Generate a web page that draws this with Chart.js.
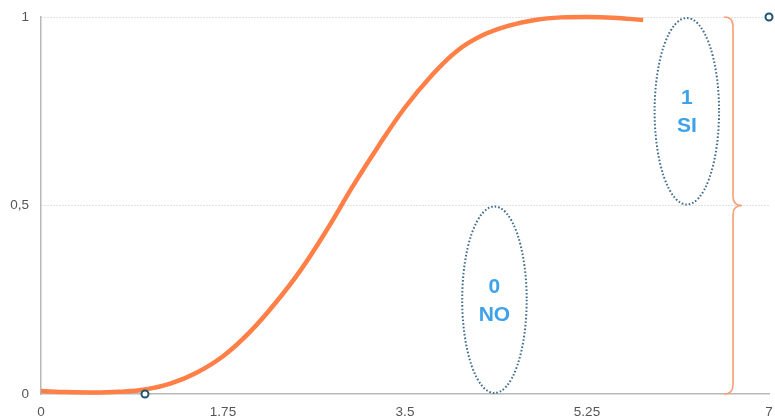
<!DOCTYPE html>
<html>
<head>
<meta charset="utf-8">
<script src="https://cdn.jsdelivr.net/npm/chart.js@4/dist/chart.umd.min.js"></script>
<style>
  html, body { margin: 0; padding: 0; background: #ffffff; }
  #wrap { width: 775px; height: 416px; position: relative; overflow: hidden; }
</style>
</head>
<body>
<div id="wrap"><canvas id="c"></canvas></div>
<script>
// ---- data ----
const curveX = [0, 0.25, 0.5, 0.75, 1, 1.25, 1.5, 1.75, 2, 2.25, 2.5, 2.75, 3, 3.25, 3.5, 3.75, 4, 4.25, 4.5, 4.75, 5, 5.25, 5.5, 5.79];
const curveY = [0.008, 0.005, 0.004, 0.006, 0.012, 0.028, 0.057, 0.10, 0.162, 0.24, 0.33, 0.436, 0.552, 0.66, 0.76, 0.843, 0.91, 0.952, 0.977, 0.992, 0.999, 1.0, 0.998, 0.992];
const obsX = [1, 7];
const obsY = [0, 1];
const xTickValues = [0, 1.75, 3.5, 5.25, 7];
const xTickLabels = ['0', '1.75', '3.5', '5.25', '7'];
const yTickValues = [0, 0.5, 1];
const yTickLabels = ['0', '0,5', '1'];
const classLabels = [['1', 'SI'], ['0', 'NO']];
const classRanges = [[0.5, 1], [0, 0.5]];
const classCenterX = [6.21, 4.36];

const annot = {
  ellipseHalfWidth: 0.31,
  bracketX: 6.654
};

const annotationPlugin = {
  id: 'annot',
  afterDatasetsDraw(chart) {
    const { ctx, scales: { x, y } } = chart;
    ctx.save();
    for (let i = 0; i < classLabels.length; i++) {
      const cx = x.getPixelForValue(classCenterX[i]);
      const top = y.getPixelForValue(classRanges[i][1]);
      const bot = y.getPixelForValue(classRanges[i][0]);
      const rx = x.getPixelForValue(classCenterX[i] + annot.ellipseHalfWidth) - cx;
      const cy = (top + bot) / 2;
      const ry = (bot - top) / 2 - 1;
      ctx.beginPath();
      ctx.setLineDash([1.6, 2]);
      ctx.lineWidth = 2;
      ctx.strokeStyle = '#3f6c8c';
      ctx.ellipse(cx, cy, rx, ry, 0, 0, Math.PI * 2);
      ctx.stroke();
      ctx.setLineDash([]);
      ctx.fillStyle = '#3da2ea';
      ctx.font = 'bold 21px "Liberation Sans", Arial, sans-serif';
      ctx.textAlign = 'center';
      ctx.textBaseline = 'middle';
      ctx.fillText(classLabels[i][0], cx, cy - 13);
      ctx.fillText(classLabels[i][1], cx, cy + 15);
    }
    const bx = x.getPixelForValue(annot.bracketX);
    const t = y.getPixelForValue(1);
    const m = y.getPixelForValue(0.5);
    const b = y.getPixelForValue(0);
    const r = 9;
    ctx.beginPath();
    ctx.lineWidth = 1.6;
    ctx.strokeStyle = '#f79f74';
    ctx.moveTo(bx - r, t);
    ctx.quadraticCurveTo(bx, t, bx, t + r);
    ctx.lineTo(bx, m - r);
    ctx.quadraticCurveTo(bx, m, bx + r, m);
    ctx.quadraticCurveTo(bx, m, bx, m + r);
    ctx.lineTo(bx, b - r);
    ctx.quadraticCurveTo(bx, b, bx - r, b);
    ctx.stroke();
    ctx.restore();
  }
};

new Chart(document.getElementById('c'), {
  data: {
    datasets: [
      {
        type: 'line',
        data: curveX.map((v, i) => ({ x: v, y: curveY[i] })),
        borderColor: '#ff7f47',
        borderWidth: 4.5,
        pointRadius: 0,
        tension: 0.4,
        fill: false,
        clip: false,
        borderCapStyle: 'butt',
        order: 2
      },
      {
        type: 'scatter',
        data: obsX.map((v, i) => ({ x: v, y: obsY[i] })),
        pointRadius: 3.5,
        pointBorderWidth: 2,
        pointBorderColor: '#1f5570',
        pointBackgroundColor: '#ffffff',
        clip: false,
        order: 1
      }
    ]
  },
  options: {
    responsive: true,
    maintainAspectRatio: false,
    animation: false,
    devicePixelRatio: 1,
    layout: { padding: { top: 17, right: 4, left: 0, bottom: 0 } },
    plugins: { legend: { display: false }, tooltip: { enabled: false } },
    scales: {
      x: {
        type: 'linear',
        min: 0, max: 7,
        afterBuildTicks(s) { s.ticks = xTickValues.map(v => ({ value: v })); },
        afterFit(s) { s.height = 22; s.paddingRight = 0; s.paddingLeft = 0; },
        ticks: {
          callback: (v) => { const i = xTickValues.indexOf(v); return i >= 0 ? xTickLabels[i] : ''; },
          color: '#555555',
          font: { family: '"Liberation Sans", Arial, sans-serif', size: 13.5 },
          padding: 10,
          maxRotation: 0,
          autoSkip: false
        },
        grid: { display: false, drawTicks: false },
        border: { display: true, color: '#b8b8b8', width: 1.5 }
      },
      y: {
        type: 'linear',
        min: 0, max: 1,
        afterBuildTicks(s) { s.ticks = yTickValues.map(v => ({ value: v })); },
        afterFit(s) { s.width = 41; s.paddingTop = 0; s.paddingBottom = 0; },
        ticks: {
          callback: (v) => { const i = yTickValues.indexOf(v); return i >= 0 ? yTickLabels[i] : ''; },
          color: '#555555',
          font: { family: '"Liberation Sans", Arial, sans-serif', size: 13.5 },
          padding: 12
        },
        grid: {
          drawTicks: false,
          color: (c) => (c.tick && c.tick.value === 0) ? 'rgba(0,0,0,0)' : '#c4c4c4',
          lineWidth: 1
        },
        border: { display: true, color: '#b8b8b8', width: 1.5, dash: [1, 2] }
      }
    }
  },
  plugins: [annotationPlugin]
});
</script>
</body>
</html>
